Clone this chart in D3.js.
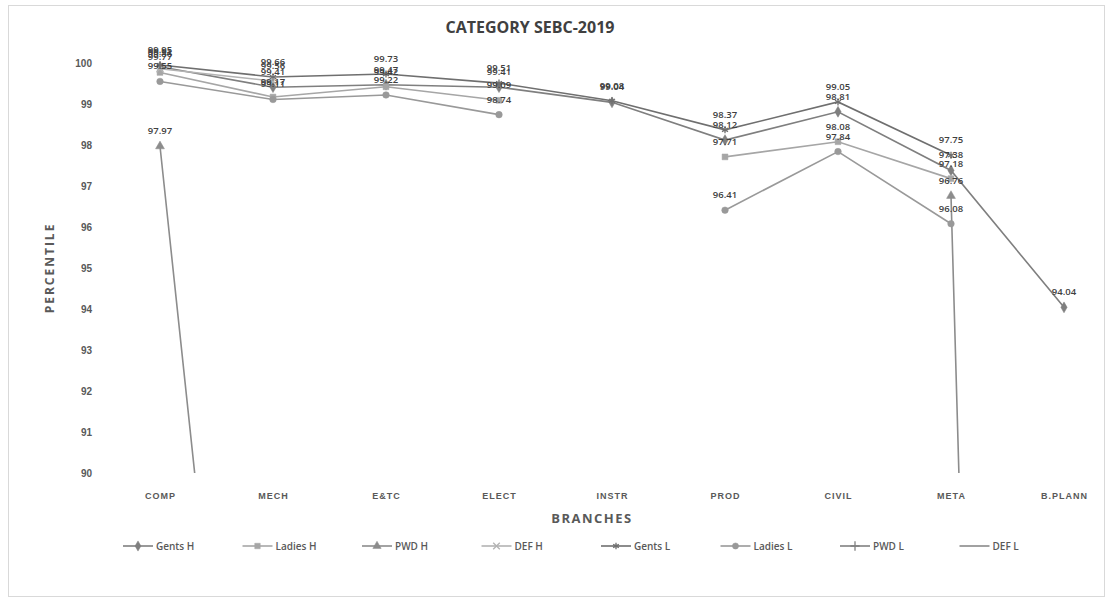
<!DOCTYPE html>
<html>
<head>
<meta charset="utf-8">
<script src="https://cdn.jsdelivr.net/npm/d3@7"></script>
<style>
  html, body { margin: 0; padding: 0; background: #fff; }
  svg { display: block; font-family: "Open Sans", "Liberation Sans", Arial, sans-serif; }
</style>
</head>
<body>
<svg id="chart" width="1112" height="600"></svg>
<script>
// ---- data ----
const categories = ["COMP", "MECH", "E&TC", "ELECT", "INSTR", "PROD", "CIVIL", "META", "B.PLANN"];
const yTicks = [90, 91, 92, 93, 94, 95, 96, 97, 98, 99, 100];
const seriesNames = ["Gents H", "Ladies H", "PWD H", "DEF H", "Gents L", "Ladies L", "PWD L", "DEF L"];
const gentsH  = [99.91, 99.41, 99.47, 99.41, 99.04, 98.12, 98.81, 97.38, 94.04];
const ladiesH = [99.77, 99.17, 99.42, 99.09, null, 97.71, 98.08, 97.18, null];
const pwdH    = [97.97, 72.0, null, null, null, null, null, 96.76, 0];
const defH    = [99.86, 99.56, null, null, null, null, null, null, null];
const gentsL  = [99.95, 99.66, 99.73, 99.51, 99.08, 98.37, 99.05, 97.75, null];
const ladiesL = [99.55, 99.11, 99.22, 98.74, null, 96.41, 97.84, 96.08, null];
const pwdL    = [null, null, null, null, null, null, null, null, null];
const defL    = [null, null, null, null, null, null, null, null, null];

const seriesValues = [gentsH, ladiesH, pwdH, defH, gentsL, ladiesL, pwdL, defL];
const seriesColors = ["#7f7f7f", "#a6a6a6", "#8c8c8c", "#b3b3b3", "#6f6f6f", "#999999", "#808080", "#8a8a8a"];
const seriesSymbols = [d3.symbolDiamond, d3.symbolSquare, d3.symbolTriangle, d3.symbolTimes, d3.symbolAsterisk, d3.symbolCircle, d3.symbolPlus, null];
const strokeSymbols = [false, false, false, true, true, false, true, false];

const svg = d3.select("#chart");

// outer border
svg.append("rect").attr("x", 8.5).attr("y", 5.5).attr("width", 1096).attr("height", 591)
  .attr("fill", "none").attr("stroke", "#d9d9d9");

const x = d3.scalePoint().domain(categories).range([160, 1064]);
const y = d3.scaleLinear().domain([90, 100]).range([473, 63]);

// title
svg.append("text").attr("x", 530).attr("y", 33).attr("text-anchor", "middle")
  .attr("font-size", 16).attr("font-weight", "bold").attr("fill", "#404040")
  .text("CATEGORY SEBC-2019");

// y axis
const yAxis = svg.append("g").attr("transform", "translate(92,0)")
  .call(d3.axisLeft(y).tickValues(yTicks).tickSize(0).tickPadding(0).tickFormat(d3.format("d")));
yAxis.select(".domain").remove();
yAxis.selectAll("text").attr("font-size", 10).attr("font-weight", "bold").attr("fill", "#595959");

// x axis
const xAxis = svg.append("g").attr("transform", "translate(0,485)")
  .call(d3.axisBottom(x).tickSize(0).tickPadding(8));
xAxis.select(".domain").remove();
xAxis.selectAll("text").attr("font-size", 9).attr("font-weight", "bold").attr("fill", "#595959")
  .attr("letter-spacing", "1px");

// axis titles
svg.append("text").attr("transform", "translate(54,268) rotate(-90)").attr("text-anchor", "middle")
  .attr("font-size", 12).attr("font-weight", "bold").attr("fill", "#595959").attr("letter-spacing", "2px")
  .text("PERCENTILE");
svg.append("text").attr("x", 592).attr("y", 523).attr("text-anchor", "middle")
  .attr("font-size", 13).attr("font-weight", "bold").attr("fill", "#595959").attr("letter-spacing", "1.5px")
  .text("BRANCHES");

// clip
svg.append("clipPath").attr("id", "plotclip").append("rect")
  .attr("x", 100).attr("y", 40).attr("width", 1010).attr("height", 433);

const plot = svg.append("g").attr("clip-path", "url(#plotclip)");
const line = d3.line().defined(d => d.v !== null).x(d => x(d.c)).y(d => y(d.v));

seriesValues.forEach((vals, i) => {
  const pts = categories.map((c, j) => ({ c: c, v: vals[j] }));
  plot.append("path").datum(pts).attr("d", line).attr("fill", "none")
    .attr("stroke", seriesColors[i]).attr("stroke-width", 1.6);
});

// markers and labels
seriesValues.forEach((vals, i) => {
  const pts = categories.map((c, j) => ({ c: c, v: vals[j] })).filter(d => d.v !== null && d.v >= 90);
  if (seriesSymbols[i]) {
    plot.selectAll(null).data(pts).enter().append("path")
      .attr("transform", d => `translate(${x(d.c)},${y(d.v)})`)
      .attr("d", d3.symbol().type(seriesSymbols[i]).size(34))
      .attr("fill", strokeSymbols[i] ? "none" : seriesColors[i])
      .attr("stroke", seriesColors[i]).attr("stroke-width", strokeSymbols[i] ? 1.3 : 0.5);
  }
  svg.selectAll(null).data(pts).enter().append("text")
    .attr("x", d => x(d.c)).attr("y", d => y(d.v) - 12).attr("text-anchor", "middle")
    .attr("font-size", 9.5).attr("font-weight", 600).attr("fill", "#404040")
    .text(d => d3.format(".2f")(d.v));
});

// legend
const legend = svg.append("g").attr("transform", "translate(0,546)");
seriesNames.forEach((name, i) => {
  const lx = 123 + i * 119.5;
  const g = legend.append("g").attr("transform", `translate(${lx},0)`);
  g.append("line").attr("x1", 0).attr("x2", 30).attr("y1", 0).attr("y2", 0)
    .attr("stroke", seriesColors[i]).attr("stroke-width", 1.6);
  if (seriesSymbols[i]) {
    g.append("path").attr("transform", "translate(15,0)")
      .attr("d", d3.symbol().type(seriesSymbols[i]).size(30))
      .attr("fill", strokeSymbols[i] ? "none" : seriesColors[i])
      .attr("stroke", seriesColors[i]).attr("stroke-width", strokeSymbols[i] ? 1.3 : 0.5);
  }
  g.append("text").attr("x", 33).attr("y", 4).attr("font-size", 10).attr("font-weight", 600)
    .attr("fill", "#595959").text(name);
});
</script>
</body>
</html>
